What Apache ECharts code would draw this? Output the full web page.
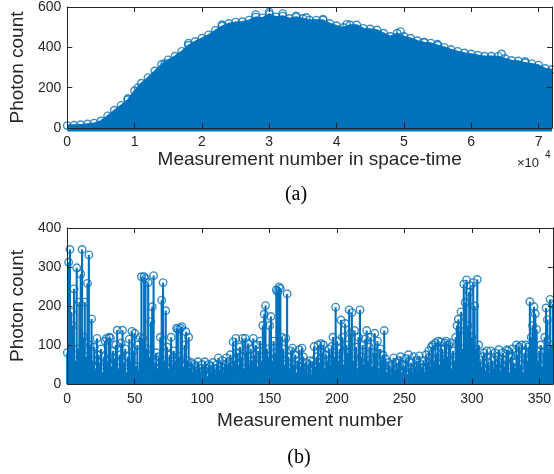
<!DOCTYPE html>
<html>
<head>
<meta charset="utf-8">
<script src="https://cdn.jsdelivr.net/npm/echarts@6/dist/echarts.min.js"></script>
<style>
html,body{margin:0;padding:0;background:#fff;}
#chart{width:554px;height:474px;}
</style>
</head>
<body>
<div id="chart"></div>
<script>
// ---------- Data ----------
// (a) measurement positions (every 1000) and envelope of photon counts
const measA = [0,1000,2000,3000,4000,5000,6000,7000,8000,9000,10000,11000,12000,13000,14000,15000,16000,17000,18000,19000,20000,21000,22000,23000,24000,25000,26000,27000,28000,29000,30000,31000,32000,33000,34000,35000,36000,37000,38000,39000,40000,41000,42000,43000,44000,45000,46000,47000,48000,49000,50000,51000,52000,53000,54000,55000,56000,57000,58000,59000,60000,61000,62000,63000,64000,65000,66000,67000,68000,69000,70000,71000,72000];
const envA = [12,14,16,20,24,35,60,88,112,140,185,222,250,283,315,338,356,380,410,429,445,462,484,505,518,525,527,535,550,546,565,551,555,543,550,543,535,535,535,518,507,498,511,511,494,491,486,470,454,470,454,445,433,424,421,410,400,389,380,372,367,361,356,356,355,345,335,332,323,319,312,295,290];
// (a) isolated high peaks above the envelope
const peakXA = [9000,10500,14500,18000,23000,28000,30000,32000,34000,35500,38000,41500,49500,53000,55000,64500,68000];
const peakYA = [146,200,320,421,512,562,575,567,556,548,540,514,478,426,415,367,330];
const extentA = [0,72000];

// (b) photon count per measurement number 0..360
const countsB = [
80,312,345,185,150,244,60,298,90,210,
282,345,120,210,70,258,331,100,167,60,
95,40,117,75,55,90,30,70,110,117,
60,120,118,45,85,65,100,138,40,75,
105,138,55,90,30,70,115,60,135,85,
130,45,100,35,120,275,117,275,270,90,
260,70,160,198,278,55,80,40,70,120,
215,260,60,188,95,40,75,120,50,85,
60,143,140,70,143,147,45,100,134,60,
120,40,55,30,50,45,25,57,40,30,
50,35,57,40,20,50,45,30,55,40,
25,50,67,35,45,60,30,50,67,40,
55,75,45,108,60,117,80,50,95,70,
117,40,117,85,104,50,90,60,117,75,
100,45,85,110,60,150,179,201,90,70,
150,173,60,110,80,241,237,249,245,120,
90,50,117,231,70,40,85,92,50,75,
30,60,88,45,92,70,40,55,30,50,
60,25,58,96,45,70,100,55,104,80,
100,40,75,60,90,50,96,120,70,197,
110,60,90,164,120,50,155,100,80,190,
130,183,60,137,95,40,120,190,70,100,
50,115,137,60,95,120,45,80,130,79,
110,40,90,60,75,137,64,30,55,45,
25,50,67,35,55,40,60,70,30,50,
45,65,25,75,40,55,30,70,45,60,
35,72,50,40,60,30,75,55,85,45,
95,100,60,105,80,110,50,108,90,65,
105,110,70,100,105,40,85,60,120,150,
166,137,185,90,256,209,267,150,236,252,
120,260,200,90,268,100,60,45,70,80,
35,85,55,30,85,60,40,80,50,70,
88,35,65,80,45,60,88,85,30,70,
90,55,40,100,75,95,50,100,30,80,
100,60,95,211,120,150,198,180,140,60,
85,100,45,80,120,195,165,90,217,100,
205];
const extentB = [0,360];

// tick settings
const yTicksA = [0,200,400,600];
const yTicksB = [0,100,200,300,400];
const xStepA = 10000;
const xStepB = 50;

// ---------- Chart ----------
const BLUE = '#0072BD';
const INK = '#262626';
const SANS = '"Liberation Sans", Arial, Helvetica, sans-serif';
const SERIF = '"Liberation Serif", "Times New Roman", serif';

function boxAxis(grid, pos, min, max, interval, extra) {
  return Object.assign({
    gridIndex: grid, type: 'value', position: pos, min: min, max: max, interval: interval,
    z: 5,
    axisLine: {show: true, onZero: false, lineStyle: {color: INK, width: 1}},
    axisTick: {show: true, inside: true, length: 5, lineStyle: {color: INK, width: 1}},
    axisLabel: {show: false},
    splitLine: {show: false}
  }, extra || {});
}

const tickLabel = {show: true, fontSize: 14, color: INK, fontFamily: SANS};
const nameStyle = {fontSize: 19, color: INK, fontFamily: SANS};

const option = {
  animation: false,
  backgroundColor: '#fff',
  grid: [
    {left: 67, right: 2, top: 5, height: 123},
    {left: 67, right: 1, top: 228, height: 156}
  ],
  xAxis: [
    boxAxis(0, 'bottom', extentA[0], extentA[1], xStepA, {
      axisLabel: Object.assign({}, tickLabel, {margin: 7, showMaxLabel: false, formatter: v => String(v / 10000)}),
      name: 'Measurement number in space-time', nameLocation: 'middle', nameGap: 15, nameTextStyle: nameStyle
    }),
    boxAxis(0, 'top', extentA[0], extentA[1], xStepA),
    boxAxis(1, 'bottom', extentB[0], extentB[1], xStepB, {
      axisLabel: Object.assign({}, tickLabel, {margin: 8, showMaxLabel: false}),
      name: 'Measurement number', nameLocation: 'middle', nameGap: 27, nameTextStyle: nameStyle
    }),
    boxAxis(1, 'top', extentB[0], extentB[1], xStepB)
  ],
  yAxis: [
    boxAxis(0, 'left', yTicksA[0], yTicksA[yTicksA.length - 1], yTicksA[1] - yTicksA[0], {
      axisLabel: Object.assign({}, tickLabel, {margin: 6}),
      name: 'Photon count', nameLocation: 'middle', nameGap: 36, nameTextStyle: nameStyle
    }),
    boxAxis(0, 'right', yTicksA[0], yTicksA[yTicksA.length - 1], yTicksA[1] - yTicksA[0]),
    boxAxis(1, 'left', yTicksB[0], yTicksB[yTicksB.length - 1], yTicksB[1] - yTicksB[0], {
      axisLabel: Object.assign({}, tickLabel, {margin: 6}),
      name: 'Photon count', nameLocation: 'middle', nameGap: 36, nameTextStyle: nameStyle
    }),
    boxAxis(1, 'right', yTicksB[0], yTicksB[yTicksB.length - 1], yTicksB[1] - yTicksB[0])
  ],
  series: [
    // (a) filled envelope of dense stems
    {
      type: 'line', xAxisIndex: 0, yAxisIndex: 0,
      data: measA.map((x, i) => [x, envA[i]]),
      symbol: 'none', smooth: false,
      lineStyle: {color: BLUE, width: 1.5},
      areaStyle: {color: BLUE, opacity: 1},
      silent: true, z: 2
    },
    // (a) zero-valued markers along the baseline
    {
      type: 'line', xAxisIndex: 0, yAxisIndex: 0,
      data: extentA.map(x => [x, 0]),
      symbol: 'none', clip: false,
      lineStyle: {color: BLUE, width: 7},
      silent: true, z: 2
    },
    // (a) stem-top circles
    {
      type: 'scatter', xAxisIndex: 0, yAxisIndex: 0,
      data: measA.map((x, i) => [x, envA[i]]).concat(peakXA.map((x, i) => [x, peakYA[i]])),
      symbol: 'circle', symbolSize: 7.5, clip: false,
      itemStyle: {color: 'rgba(0,0,0,0)', borderColor: BLUE, borderWidth: 1.4},
      silent: true, z: 3
    },
    // (b) stems
    {
      type: 'bar', xAxisIndex: 2, yAxisIndex: 2,
      data: countsB.map((v, i) => [i, v]),
      barWidth: 2.1,
      itemStyle: {color: BLUE},
      silent: true, z: 2
    },
    // (b) stem-top circles
    {
      type: 'scatter', xAxisIndex: 2, yAxisIndex: 2,
      data: countsB.map((v, i) => [i, v]),
      symbol: 'circle', symbolSize: 7.5, clip: false,
      itemStyle: {color: 'rgba(0,0,0,0)', borderColor: BLUE, borderWidth: 1.4},
      silent: true, z: 3
    }
  ],
  graphic: [
    {type: 'text', x: 517, y: 163, z: 10, style: {text: '\u00d710', fontSize: 13, fill: INK, fontFamily: SANS, verticalAlign: 'middle', align: 'left'}},
    {type: 'text', x: 545, y: 155, z: 10, style: {text: '4', fontSize: 10, fill: INK, fontFamily: SANS, verticalAlign: 'middle', align: 'left'}},
    {type: 'text', x: 296, y: 195, z: 10, style: {text: '(a)', fontSize: 20, fill: '#000', fontFamily: SERIF, verticalAlign: 'middle', align: 'center'}},
    {type: 'text', x: 299, y: 458, z: 10, style: {text: '(b)', fontSize: 20, fill: '#000', fontFamily: SERIF, verticalAlign: 'middle', align: 'center'}}
  ]
};

const chart = echarts.init(document.getElementById('chart'), null, {renderer: 'canvas'});
chart.setOption(option);
</script>
</body>
</html>
